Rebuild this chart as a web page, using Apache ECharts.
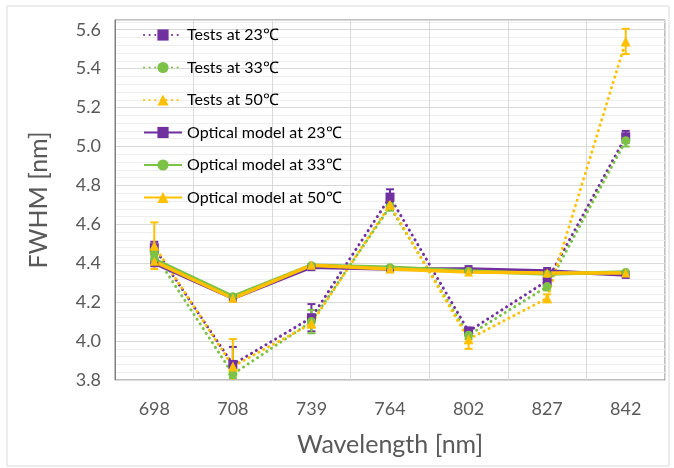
<!DOCTYPE html>
<html>
<head>
<meta charset="utf-8">
<script src="https://cdn.jsdelivr.net/npm/echarts@6/dist/echarts.min.js"></script>
<style>
  html,body{margin:0;padding:0;background:#fff;}
  #chart{width:674px;height:468px;}
</style>
</head>
<body>
<div id="chart"></div>
<script>
  // wavelengths on x axis
  var wavelengths = ['698', '708', '739', '764', '802', '827', '842'];

  // measured FWHM (tests)
  var test23 = [4.48, 3.88, 4.12, 4.74, 4.05, 4.31, 5.05];
  var test33 = [4.45, 3.83, 4.10, 4.69, 4.03, 4.28, 5.03];
  var test50 = [4.49, 3.87, 4.09, 4.70, 4.01, 4.22, 5.54];

  // error bar half-widths
  var err23 = [0.03, 0.09, 0.07, 0.04, 0.02, 0.02, 0.03];
  var err33 = [0.02, 0.02, 0.06, 0.02, 0.02, 0.02, 0.03];
  var err50 = [0.12, 0.14, 0.02, 0.02, 0.05, 0.02, 0.065];

  // optical model
  var model23 = [4.40, 4.22, 4.38, 4.37, 4.37, 4.36, 4.34];
  var model33 = [4.42, 4.23, 4.39, 4.38, 4.36, 4.345, 4.355];
  var model50 = [4.41, 4.22, 4.39, 4.37, 4.355, 4.35, 4.35];

  var purple = '#7030A0', green = '#7CC246', yellow = '#FFC000';
  var font = 'Lato, "Open Sans", sans-serif';

  function errData(vals, errs){
    var out = [];
    for(var i=0;i<vals.length;i++){
      out.push([i, vals[i]-errs[i], vals[i]+errs[i]]);
    }
    return out;
  }

  function errSeries(name, vals, errs, color){
    return {
      name: name,
      type: 'custom',
      z: 3,
      clip: true,
      renderItem: function(params, api){
        var x = api.value(0);
        var lo = api.coord([x, api.value(1)]);
        var hi = api.coord([x, api.value(2)]);
        var w = 4;
        var st = {stroke: color, lineWidth: 2};
        return {
          type: 'group',
          children: [
            {type:'line', shape:{x1:lo[0], y1:lo[1], x2:hi[0], y2:hi[1]}, style: st},
            {type:'line', shape:{x1:lo[0]-w, y1:lo[1], x2:lo[0]+w, y2:lo[1]}, style: st},
            {type:'line', shape:{x1:hi[0]-w, y1:hi[1], x2:hi[0]+w, y2:hi[1]}, style: st}
          ]
        };
      },
      data: errData(vals, errs)
    };
  }

  function testSeries(name, data, color, symbol, size){
    return {
      name: name,
      type: 'line',
      data: data,
      symbol: symbol,
      symbolSize: size,
      z: 4,
      itemStyle: {color: color},
      lineStyle: {color: color, width: 3, type: [0.1, 5.5], cap: 'round'}
    };
  }

  function modelSeries(name, data, color, symbol, size){
    return {
      name: name,
      type: 'line',
      data: data,
      symbol: symbol,
      symbolSize: size,
      z: 5,
      itemStyle: {color: color},
      lineStyle: {color: color, width: 3.5}
    };
  }

  var chart = echarts.init(document.getElementById('chart'));
  var option = {
    animation: false,
    backgroundColor: '#fff',
    graphic: [{
      type: 'rect',
      shape: {x: 7, y: 6, width: 662, height: 460},
      style: {fill: 'none', stroke: '#d9d9d9', lineWidth: 1},
      silent: true
    }],
    legend: {
      orient: 'vertical',
      left: 138,
      top: 22,
      itemWidth: 38,
      itemHeight: 14,
      itemGap: 16.5,
      textStyle: {fontFamily: font, fontSize: 16, color: '#000'},
      data: ['Tests at 23℃', 'Tests at 33℃', 'Tests at 50℃',
             'Optical model at 23℃', 'Optical model at 33℃', 'Optical model at 50℃']
    },
    grid: {
      left: 115, top: 20, right: 9, bottom: 88,
      show: true, borderColor: '#7f7f7f', borderWidth: 1
    },
    xAxis: {
      type: 'category',
      data: wavelengths,
      boundaryGap: true,
      name: 'Wavelength [nm]',
      nameLocation: 'middle',
      nameGap: 52,
      nameTextStyle: {fontFamily: font, fontSize: 25, color: '#595959'},
      axisLine: {lineStyle: {color: '#d9d9d9'}},
      axisTick: {show: false},
      axisLabel: {fontFamily: font, fontSize: 18, color: '#595959', margin: 20},
      splitLine: {show: true, lineStyle: {color: '#d9d9d9', width: 1}}
    },
    yAxis: {
      type: 'value',
      min: 3.8,
      max: 5.65,
      interval: 0.2,
      name: 'FWHM [nm]',
      nameLocation: 'middle',
      nameGap: 64,
      nameTextStyle: {fontFamily: font, fontSize: 25, color: '#595959'},
      axisLine: {show: true, lineStyle: {color: '#7f7f7f'}},
      axisTick: {show: false},
      axisLabel: {
        fontFamily: font, fontSize: 18, color: '#595959', margin: 14,
        showMaxLabel: false,
        formatter: function(v){ return v.toFixed(1); }
      },
      splitLine: {show: true, lineStyle: {color: '#d9d9d9'}},
      minorTick: {show: false, splitNumber: 5},
      minorSplitLine: {show: true, lineStyle: {color: '#eeeeee'}}
    },
    series: [
      testSeries('Tests at 23℃', test23, purple, 'rect', 9),
      testSeries('Tests at 33℃', test33, green, 'circle', 9),
      testSeries('Tests at 50℃', test50, yellow, 'triangle', 10),
      errSeries('Tests at 23℃', test23, err23, purple),
      errSeries('Tests at 33℃', test33, err33, green),
      errSeries('Tests at 50℃', test50, err50, yellow),
      modelSeries('Optical model at 23℃', model23, purple, 'rect', 8),
      modelSeries('Optical model at 33℃', model33, green, 'circle', 8),
      modelSeries('Optical model at 50℃', model50, yellow, 'triangle', 9)
    ]
  };
  chart.setOption(option);
</script>
</body>
</html>
